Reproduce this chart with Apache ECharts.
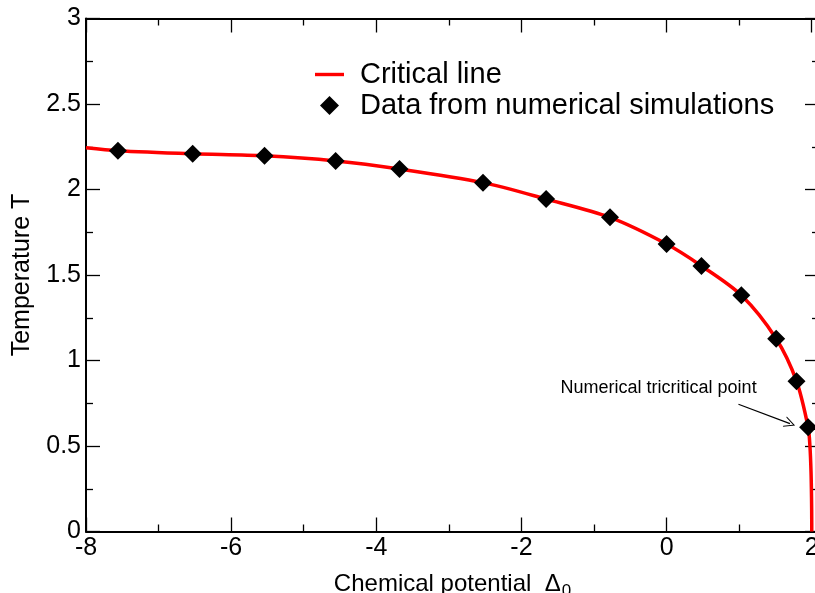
<!DOCTYPE html>
<html>
<head>
<meta charset="utf-8">
<script src="https://cdn.jsdelivr.net/npm/echarts@6/dist/echarts.min.js"></script>
<style>
html,body{margin:0;padding:0;background:#fff;}
#chart{width:815px;height:593px;}
</style>
</head>
<body>
<div id="chart"></div>
<script>
// Critical line
var curveX = [-8.0, -7.56, -6.53, -5.54, -4.56, -3.68, -2.53, -1.66, -0.78, 0.0, 0.48, 1.03, 1.51, 1.79, 1.95, 1.975, 1.99, 1.997, 2.0, 2.0];
var curveY = [2.244, 2.227, 2.209, 2.197, 2.167, 2.120, 2.040, 1.944, 1.837, 1.681, 1.553, 1.381, 1.127, 0.879, 0.61, 0.50, 0.35, 0.20, 0.05, 0.0];
// Data from numerical simulations
var simX = [-7.56, -6.53, -5.54, -4.56, -3.68, -2.53, -1.66, -0.78, 0.0, 0.48, 1.03, 1.51, 1.79, 1.95];
var simY = [2.227, 2.209, 2.198, 2.167, 2.120, 2.040, 1.944, 1.837, 1.681, 1.553, 1.381, 1.127, 0.879, 0.61];
// Annotation
var annotText = 'Numerical tricritical point';
var annotTextPos = [-0.11, 0.84];
var arrowStart = [0.99, 0.744];
var arrowEnd = [1.70, 0.631];
// Axes
var xMin = -8, xMax = 2.1, xStep = 2;
var yMin = 0, yMax = 3, yStep = 0.5;

var FF = "'Liberation Sans', Arial, Helvetica, sans-serif";

function zip(a, b) { return a.map(function (v, i) { return [v, b[i]]; }); }

var chart = echarts.init(document.getElementById('chart'), null, {renderer: 'canvas'});

var axisCommon = {
  axisLine: {show: true, onZero: false, lineStyle: {color: '#000', width: 2}},
  axisTick: {show: true, inside: true, length: 14, lineStyle: {color: '#000', width: 1.3}},
  minorTick: {show: true, splitNumber: 2, length: 7, lineStyle: {color: '#000', width: 1.3}},
  splitLine: {show: false},
  minorSplitLine: {show: false}
};

function ax(extra) { return Object.assign({}, JSON.parse(JSON.stringify(axisCommon)), extra); }

var option = {
  backgroundColor: '#fff',
  animation: false,
  grid: {left: 86, right: -4, top: 18.5, bottom: 61.5, containLabel: false, outerBoundsMode: 'none'},
  legend: {
    orient: 'vertical', left: 310, top: 55,
    itemWidth: 29, itemHeight: 19, itemGap: 2,
    symbolKeepAspect: true,
    textStyle: {fontSize: 29, color: '#000', fontFamily: FF, padding: [0, 0, 0, 11]},
    data: [
      {name: 'Critical line', icon: 'path://M0,0 L29,0 L29,3.4 L0,3.4 Z'},
      {name: 'Data from numerical simulations', icon: 'path://M5,0 L10,5 L5,10 L0,5 Z'}
    ]
  },
  xAxis: [
    ax({
      type: 'value', position: 'bottom', min: xMin, max: xMax, interval: xStep,
      name: '{a|Chemical potential  Δ}{s|0}',
      nameLocation: 'middle', nameGap: 37,
      nameTextStyle: {
        rich: {
          a: {fontSize: 24, fontFamily: FF, color: '#000'},
          s: {fontSize: 17, fontFamily: FF, color: '#000', verticalAlign: 'bottom', padding: [14, 0, 0, 1]}
        }
      },
      axisLabel: {show: true, fontSize: 25, fontFamily: FF, color: '#000', margin: 4, showMaxLabel: false}
    }),
    ax({
      type: 'value', position: 'top', min: xMin, max: xMax, interval: xStep,
      axisLabel: {show: false}
    })
  ],
  yAxis: [
    ax({
      type: 'value', position: 'left', min: yMin, max: yMax, interval: yStep,
      name: 'Temperature T', nameLocation: 'middle', nameGap: 51, nameRotate: 90,
      nameTextStyle: {fontSize: 25, fontFamily: FF, color: '#000'},
      axisLabel: {show: true, fontSize: 25, fontFamily: FF, color: '#000', margin: 5}
    }),
    ax({
      type: 'value', position: 'right', min: yMin, max: yMax, interval: yStep,
      axisLine: {show: false, onZero: false},
      axisLabel: {show: false}
    })
  ],
  series: [
    {
      name: 'Critical line', type: 'line', xAxisIndex: 0, yAxisIndex: 0,
      data: zip(curveX, curveY),
      symbol: 'none', smooth: 0.3,
      lineStyle: {color: '#ff0000', width: 3.5},
      itemStyle: {color: '#ff0000'},
      z: 2
    },
    {
      name: 'Data from numerical simulations', type: 'scatter', xAxisIndex: 0, yAxisIndex: 0,
      data: zip(simX, simY),
      symbol: 'diamond', symbolSize: 18,
      itemStyle: {color: '#000', opacity: 1},
      z: 3,
      markLine: {
        silent: true, animation: false,
        symbol: ['none', 'path://M5,0 L10,10 L9,10 L5,2 L1,10 L0,10 Z'],
        symbolSize: [11, 11],
        lineStyle: {color: '#000', width: 1.2, type: 'solid', opacity: 1},
        label: {show: false},
        data: [[{coord: arrowStart}, {coord: arrowEnd}]]
      }
    },
    {
      name: 'annotation', type: 'scatter', xAxisIndex: 0, yAxisIndex: 0,
      data: [annotTextPos], symbolSize: 0, silent: true,
      itemStyle: {opacity: 1},
      label: {show: true, position: 'inside', formatter: annotText, fontSize: 18, fontFamily: FF, color: '#000', opacity: 1},
      z: 4
    }
  ]
};
chart.setOption(option);
</script>
</body>
</html>
